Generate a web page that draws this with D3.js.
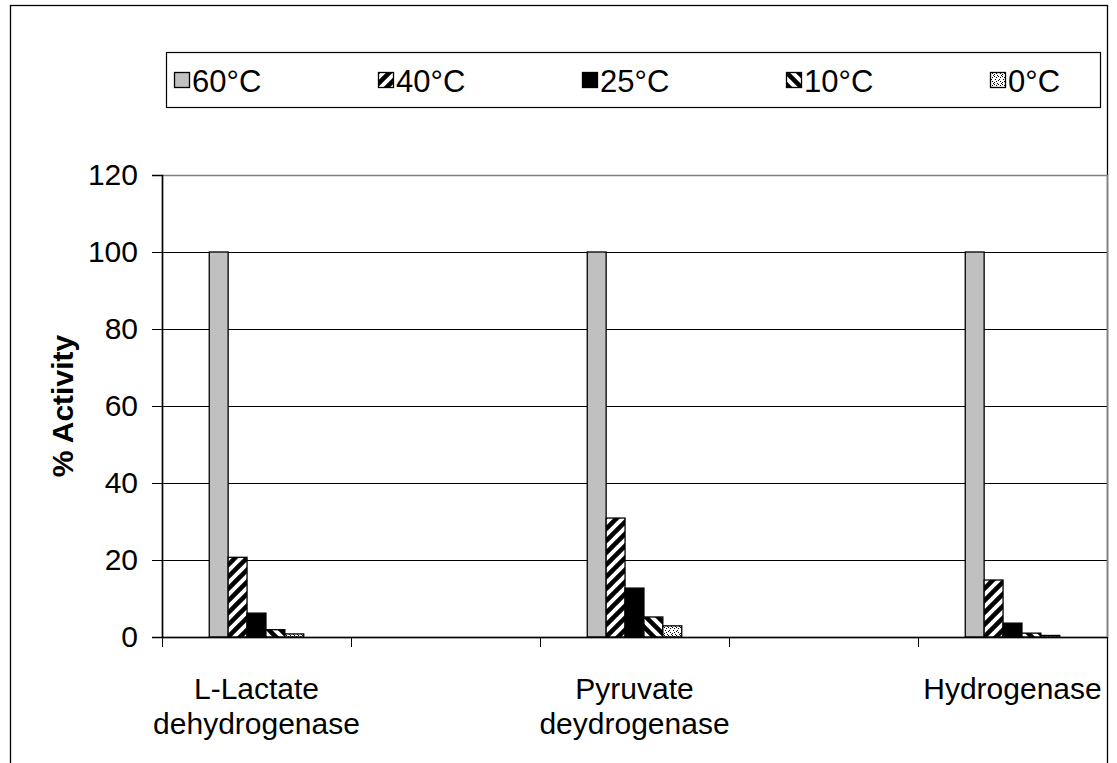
<!DOCTYPE html>
<html>
<head>
<meta charset="utf-8">
<script src="https://cdn.jsdelivr.net/npm/d3@7"></script>
<style>
  body { margin: 0; background: #fff; }
  text { font-family: "Liberation Sans", Arial, sans-serif; fill: #000; }
</style>
</head>
<body>
<svg id="contenedor"></svg>
<script>
// datos del grafico
let categorias = ["L-Lactate\ndehydrogenase", "", "Pyruvate\ndeydrogenase", "", "Hydrogenase"];
let series = ["60°C", "40°C", "25°C", "10°C", "0°C"];
let valores = [
  [100, 20.7, 6.2, 1.9, 0.8],   // L-Lactate dehydrogenase
  null,
  [100, 30.9, 12.7, 5.2, 2.9],  // Pyruvate deydrogenase
  null,
  [100, 14.8, 3.6, 1.0, 0.4]    // Hydrogenase
];
let ticksY = [0, 20, 40, 60, 80, 100, 120];

// configuracion del area
let width = 1117, height = 763;
let margin = { top: 175, bottom: 126, left: 162, right: 10 };
let bodyWidth = width - margin.left - margin.right;
let bodyHeight = height - margin.top - margin.bottom;
let fuente = "30px";

let svg = d3.select("#contenedor").attr("width", width).attr("height", height);

// patrones de relleno
let defs = svg.append("defs");
function patronRayas(id, dir) {
  let s = 12;
  let p = defs.append("pattern").attr("id", id)
    .attr("patternUnits", "userSpaceOnUse")
    .attr("width", s).attr("height", s);
  p.append("rect").attr("width", s).attr("height", s).attr("fill", "#fff");
  let d = dir > 0
    ? `M-3,${s + 3} L${s + 3},-3 M-3,3 L3,-3 M${s - 3},${s + 3} L${s + 3},${s - 3}`
    : `M-3,-3 L${s + 3},${s + 3} M-3,${s - 3} L3,${s + 3} M${s - 3},-3 L${s + 3},3`;
  p.append("path").attr("d", d).attr("stroke", "#000").attr("stroke-width", 4.5);
}
patronRayas("p40", 1);
patronRayas("p10", -1);
let p0 = defs.append("pattern").attr("id", "p0")
  .attr("patternUnits", "userSpaceOnUse").attr("width", 8).attr("height", 8);
p0.append("rect").attr("width", 8).attr("height", 8).attr("fill", "#fff");
p0.append("path").attr("d", "M0,0h1v1h-1z M2,1h1v1h-1z M4,2h1v1h-1z M6,1h1v1h-1z M4,4h1v1h-1z M0,4h1v1h-1z M2,5h1v1h-1z M6,5h1v1h-1z M1,7h1v1h-1z M5,7h1v1h-1z M3,3h1v1h-1z M7,3h1v1h-1z")
  .attr("fill", "#000");
let rellenos = ["#c0c0c0", "url(#p40)", "#000", "url(#p10)", "url(#p0)"];

// marco exterior
svg.append("rect").attr("x", 10.5).attr("y", 5.5).attr("width", 1097).attr("height", 820)
  .attr("fill", "none").attr("stroke", "#000").attr("stroke-width", 1.3);

// escalas
let xScale = d3.scaleBand().domain(d3.range(categorias.length)).range([0, bodyWidth]);
let gap = xScale.bandwidth() * 0.25;
let x1 = d3.scaleBand().domain(series).range([gap, xScale.bandwidth() - gap]);
let yScale = d3.scaleLinear().domain([0, 120]).range([bodyHeight, 0]);

let body = svg.append("g").attr("transform", `translate(${margin.left},${margin.top})`);

// lineas de la rejilla
body.selectAll(".grid").data(ticksY.slice(1, -1)).enter().append("line")
  .attr("x1", 0).attr("x2", bodyWidth)
  .attr("y1", d => Math.round(yScale(d)) + 0.5).attr("y2", d => Math.round(yScale(d)) + 0.5)
  .attr("stroke", "#000").attr("stroke-width", 1);

// borde del area de dibujo
body.append("rect").attr("x", 0.5).attr("y", 0.5).attr("width", bodyWidth).attr("height", bodyHeight)
  .attr("fill", "none").attr("stroke", "#808080").attr("stroke-width", 1.5);

// barras
categorias.forEach((c, i) => {
  if (!valores[i]) return;
  let g = body.append("g").attr("transform", `translate(${xScale(i)},0)`);
  g.selectAll("rect").data(valores[i]).enter().append("rect")
    .attr("x", (d, j) => x1(series[j]))
    .attr("y", d => yScale(d))
    .attr("width", x1.bandwidth())
    .attr("height", d => bodyHeight - yScale(d))
    .attr("fill", (d, j) => rellenos[j])
    .attr("stroke", "#000").attr("stroke-width", 1.3);
});

// eje Y
let axisY = d3.axisLeft(yScale).tickValues(ticksY).tickSize(10).tickPadding(14);
let gY = body.append("g").call(axisY);
gY.select(".domain").attr("stroke", "#000").attr("stroke-width", 1.5);
gY.selectAll(".tick line").attr("stroke", "#000");
gY.selectAll("text").style("font-size", fuente).style("font-family", "Liberation Sans, Arial, sans-serif");

// eje X (marcas entre categorias)
let gX = body.append("g").attr("transform", `translate(0,${bodyHeight})`);
gX.append("line").attr("x1", 0).attr("x2", bodyWidth).attr("y1", 0.5).attr("y2", 0.5)
  .attr("stroke", "#000").attr("stroke-width", 1.5);
let limites = d3.range(categorias.length).map(i => xScale(i)).concat([bodyWidth]);
gX.selectAll(".tk").data(limites).enter().append("line")
  .attr("x1", d => Math.round(d) + 0.5).attr("x2", d => Math.round(d) + 0.5)
  .attr("y1", 0).attr("y2", 10).attr("stroke", "#000");
categorias.forEach((c, i) => {
  let cx = xScale(i) + xScale.bandwidth() / 2;
  let t = gX.append("text").attr("text-anchor", "middle")
    .attr("x", cx).attr("y", 62)
    .style("font-size", fuente);
  c.split("\n").forEach((l, k) => {
    t.append("tspan").attr("x", cx).attr("dy", k ? 35 : 0).text(l);
  });
});

// titulo eje Y
svg.append("text").attr("transform", `translate(73,${margin.top + bodyHeight / 2}) rotate(-90)`)
  .attr("text-anchor", "middle").style("font-size", fuente).style("font-weight", "bold")
  .text("% Activity");

// leyenda
let leyenda = svg.append("g");
leyenda.append("rect").attr("x", 166.5).attr("y", 52.5).attr("width", 934).attr("height", 55)
  .attr("fill", "#fff").attr("stroke", "#000").attr("stroke-width", 1.2);
let item = leyenda.selectAll(".item").data(series).enter().append("g")
  .attr("transform", (d, i) => `translate(${174 + i * 204},0)`);
item.append("rect").attr("x", 0.5).attr("y", 72.5).attr("width", 15).attr("height", 15)
  .attr("fill", (d, i) => rellenos[i]).attr("stroke", "#000").attr("stroke-width", 1.3);
item.append("text").attr("x", 18).attr("y", 92).style("font-size", "31px").text(d => d);
</script>
</body>
</html>
